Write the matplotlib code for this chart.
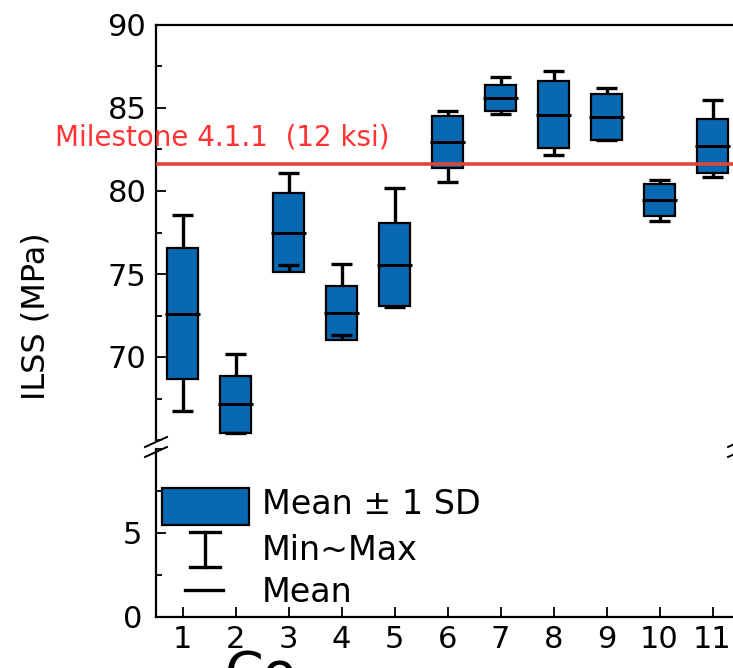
import numpy as np
import matplotlib
matplotlib.use('Agg')
import matplotlib.pyplot as plt
from matplotlib.patches import Rectangle
from matplotlib.lines import Line2D
from matplotlib.ticker import MultipleLocator

plt.rcParams['font.family'] = ['DejaVu Sans']

# ILSS per condition: mean, SD, min, max (MPa)
conditions = [1, 2, 3, 4, 5, 6, 7, 8, 9, 10, 11]
means = [72.6, 67.15, 77.5, 72.65, 75.55, 82.95, 85.6, 84.6, 84.45, 79.45, 82.7]
sds = [3.95, 1.7, 2.35, 1.6, 2.5, 1.58, 0.8, 2.0, 1.4, 0.96, 1.62]
mins = [66.75, 65.45, 75.55, 71.35, 73.0, 80.55, 84.65, 82.15, 83.1, 78.2, 80.85]
maxs = [78.55, 70.2, 81.1, 75.6, 80.2, 84.8, 86.85, 87.25, 86.2, 80.65, 85.5]
milestone = 81.6
milestone_label = 'Milestone 4.1.1  (12 ksi)'

box_color = '#0868b2'
W, H = 733, 668

fig = plt.figure(figsize=(W / 100, H / 100), dpi=100)
ax = fig.add_axes([156 / W, 1 - 440 / H, 583 / W, 415 / H])
ax_lo = fig.add_axes([156 / W, 1 - 617 / H, 583 / W, 168 / H])

x = np.array(conditions)
m = np.array(means)
s = np.array(sds)
lo = m - s
hi = m + s

ax.bar(x, 2 * s, bottom=lo, width=0.6, color=box_color, edgecolor='black', linewidth=1.6, zorder=2)
ax.vlines(x, hi, maxs, color='black', lw=2.4, zorder=3)
ax.vlines(x, mins, lo, color='black', lw=2.4, zorder=3)
ax.hlines(maxs, x - 0.2, x + 0.2, color='black', lw=2.4, zorder=3)
ax.hlines(mins, x - 0.2, x + 0.2, color='black', lw=2.4, zorder=3)
ax.hlines(m, x - 0.33, x + 0.33, color='black', lw=2.2, zorder=4)

ax.axhline(milestone, color='#d9483b', lw=2.6, zorder=5)
ax.text(-1.41, 83.25, milestone_label, color='#ff3333', fontsize=20,
        va='center', ha='left', clip_on=False)

for a in (ax, ax_lo):
    a.set_xlim(0.5, 11.5)
    a.tick_params(direction='in', which='major', length=7, width=1.3, labelsize=22, pad=7)
    a.tick_params(direction='in', which='minor', length=4, width=1.3)
    for sp in a.spines.values():
        sp.set_linewidth(1.6)

ax.set_ylim(65, 90)
ax.yaxis.set_minor_locator(MultipleLocator(2.5))
ax.set_yticks([70, 75, 80, 85, 90])
ax.spines['bottom'].set_visible(False)
ax.set_xticks([])

ax_lo.set_ylim(0, 10)
ax_lo.set_yticks([0, 5])
ax_lo.yaxis.set_minor_locator(MultipleLocator(2.5))
ax_lo.spines['top'].set_visible(False)
ax_lo.set_xticks(conditions)
ax_lo.set_xticklabels([str(c) for c in conditions])
ax_lo.tick_params(axis='x', pad=6)
ax_lo.tick_params(axis='y', pad=10)

# legend drawn in the lower panel
tr = ax_lo.transAxes
def px(xp, yp):
    return ((xp - 156) / 583, (617 - yp) / 168)

x0, y0 = px(162, 525)
x1, y1 = px(249, 488)
ax_lo.add_patch(Rectangle((x0, y0), x1 - x0, y1 - y0, transform=tr, facecolor=box_color,
                          edgecolor='black', lw=1.6, clip_on=False))
xc, ya = px(205, 532)
_, yb = px(205, 567)
xl, _ = px(190, 0)
xr, _ = px(220, 0)
ax_lo.add_line(Line2D([xc, xc], [ya, yb], transform=tr, color='black', lw=2.4))
ax_lo.add_line(Line2D([xl, xr], [ya, ya], transform=tr, color='black', lw=2.4))
ax_lo.add_line(Line2D([xl, xr], [yb, yb], transform=tr, color='black', lw=2.4))
ml, ym = px(185, 590)
mr, _ = px(223, 590)
ax_lo.add_line(Line2D([ml, mr], [ym, ym], transform=tr, color='black', lw=2.4))
for txt, yy in [('Mean ± 1 SD', 505), ('Min~Max', 551), ('Mean', 592)]:
    tx, ty = px(262, yy)
    ax_lo.text(tx, ty, txt, transform=tr, fontsize=24, va='center', ha='left')

# axis break marks
for xb in (156, 739):
    for yb0 in (447, 457):
        fig.add_artist(Line2D([(xb - 11) / W, (xb + 11) / W], [1 - yb0 / H, 1 - (yb0 - 10) / H],
                              color='black', lw=1.4))

fig.text(36 / W, 1 - 316 / H, 'ILSS (MPa)', rotation=90, fontsize=23, va='center', ha='center')
fig.text(225 / W, 1 - 649 / H, 'Co', fontsize=40, va='top', ha='left')

fig.savefig('out.png', dpi=100)
